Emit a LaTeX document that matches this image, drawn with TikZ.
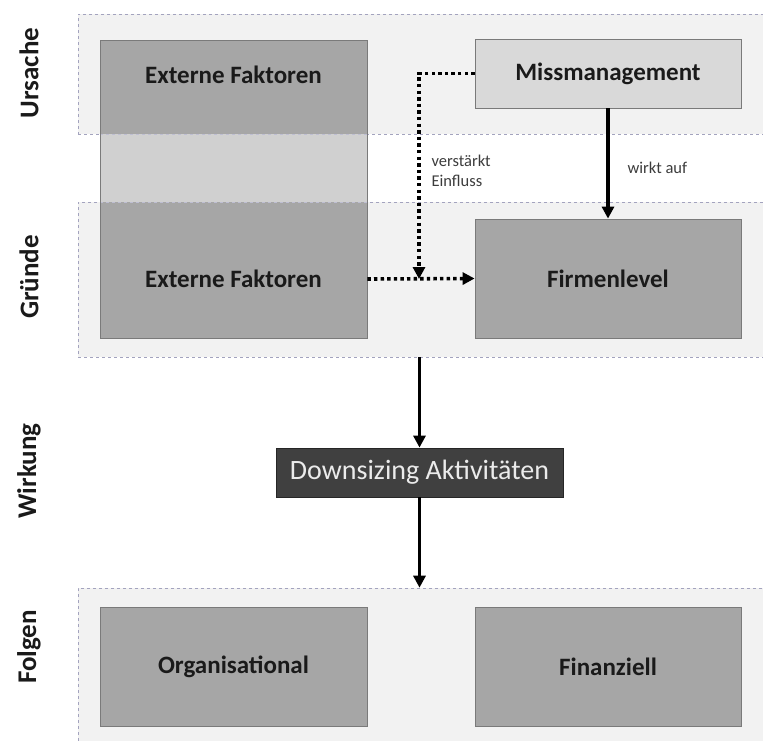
\documentclass[tikz,border=0pt]{standalone}
\usepackage{fontspec}
\setmainfont{Carlito}
\usetikzlibrary{arrows.meta}
\definecolor{bandfill}{HTML}{F2F2F2}
\definecolor{banddash}{HTML}{A3A3BE}
\definecolor{boxdark}{HTML}{A6A6A6}
\definecolor{boxedge}{HTML}{7A7A7A}
\definecolor{boxmid}{HTML}{D0D0D0}
\definecolor{boxlight}{HTML}{D9D9D9}
\definecolor{downfill}{HTML}{404040}
\definecolor{txt}{HTML}{1A1A1A}
\tikzset{
  band/.style={draw=banddash, fill=bandfill, dashed, line width=0.6pt, rectangle, inner sep=0pt},
  greybox/.style={draw=boxedge, fill=boxdark, line width=0.8pt, rectangle, inner sep=0pt, font=\bfseries\fontsize{25}{29}\selectfont, text=txt},
  lightbox/.style={greybox, fill=boxlight},
  darkbox/.style={draw=black!85, fill=downfill, line width=0.8pt, rectangle, inner sep=0pt, font=\fontsize{28}{32}\selectfont, text=white!92!black},
  sidelabel/.style={rotate=90, font=\bfseries\fontsize{27}{31}\selectfont, text=txt},
  smalllabel/.style={font=\fontsize{16.5}{20}\selectfont, text=txt!85, align=left},
  solidarrow/.style={line width=3.4pt, -{Triangle[length=12pt,width=12pt]}},
  dotarrow/.style={line width=3.6pt, dash pattern=on 3.4pt off 3.2pt, -{Triangle[length=12pt,width=12pt]}},
}
\begin{document}
\begin{tikzpicture}[x=1pt,y=-1pt]
\useasboundingbox (0,0) rectangle (763,740);
% bands
\node[band, minimum width=697, minimum height=120] (ursache) at (426.5,74) {};
\node[band, minimum width=697, minimum height=155] (gruende) at (426.5,279.5) {};
\node[band, minimum width=697, minimum height=172] (folgen) at (426.5,674) {};
% external factors spanning box
\fill[boxdark] (100,40) rectangle (367,134);
\fill[boxmid] (100,134) rectangle (367,202);
\fill[boxdark] (100,202) rectangle (367,338);
\draw[banddash!70, dashed, line width=0.5pt] (100,134) -- (367,134) (100,202) -- (367,202);
\draw[boxedge, line width=0.8pt] (100,40) rectangle (367,338);
\node[greybox, draw=none, fill=none, minimum width=267, minimum height=60] (extU) at (233.5,75) {Externe Faktoren};
\node[greybox, draw=none, fill=none, minimum width=267, minimum height=60] (extG) at (233.5,279) {Externe Faktoren};
% right column
\node[lightbox, minimum width=266, minimum height=69] (miss) at (608,73.5) {Missmanagement};
\node[greybox, minimum width=266, minimum height=119] (firm) at (608,278.5) {Firmenlevel};
\node[darkbox, minimum width=287, minimum height=49] (down) at (419.5,472.5) {Downsizing Aktivitäten};
\node[greybox, minimum width=267, minimum height=119] (orga) at (233.5,666.5) {Organisational};
\node[greybox, minimum width=266, minimum height=119] (fin) at (608,666.5) {Finanziell};
% side labels
\node[sidelabel] (lU) at (29,73) {Ursache};
\node[sidelabel] (lG) at (29,277) {Gründe};
\node[sidelabel] (lW) at (29,471) {Wirkung};
\node[sidelabel] (lF) at (29,647) {Folgen};
% small labels
\node[smalllabel, anchor=west] (vlabel) at (428,171) {verstärkt\\Einfluss};
\node[smalllabel, anchor=west] (wlabel) at (624,168) {wirkt auf};
% connectors
\coordinate (j) at (419,279);
\draw[solidarrow] (miss.south -| firm.north) -- (firm.north);
\draw[dotarrow] (miss.west) -| (j);
\draw[dotarrow] (extG.east) -- (firm.west);
\draw[solidarrow] (gruende.south -| down.north) -- (down.north);
\draw[solidarrow] (down.south) -- (folgen.north -| down.south);
\end{tikzpicture}
\end{document}
